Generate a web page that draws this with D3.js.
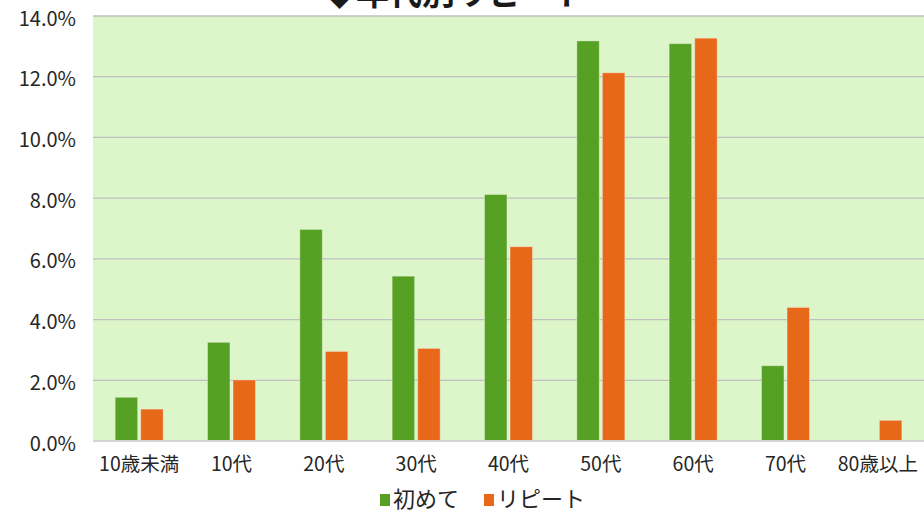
<!DOCTYPE html>
<html><head><meta charset="utf-8">
<script src="https://cdn.jsdelivr.net/npm/d3@7"></script>
<style>body{margin:0;background:#fff}svg{display:block}</style>
</head><body>
<svg id="c" width="924" height="513"></svg>
<script>
const categories = ["10歳未満","10代","20代","30代","40代","50代","60代","70代","80歳以上"];
const seriesNames = ["初めて","リピート"];
const firstTime = [1.44,3.25,6.97,5.43,8.12,13.18,13.09,2.48,0];
const repeat = [1.05,2.01,2.95,3.05,6.40,12.13,13.27,4.40,0.68];
const yTicks = [0,2,4,6,8,10,12,14];
const title = "◆年代別リピート";
const colors = ["#56a123","#e8681a"];

const svg = d3.select("#c");
const m = {l:93, r:0, t:16, b:72};
const W = 924, H = 513;
const x = d3.scaleBand().domain(categories).range([m.l, W - m.r]).paddingInner(0.48).paddingOuter(0.24);
const xs = d3.scaleBand().domain(seriesNames).range([0, x.bandwidth()]).paddingInner(0.12);
const y = d3.scaleLinear().domain([0,14]).range([H - m.b, m.t]);
const font = "'Noto Sans CJK JP','Noto Sans',sans-serif";

svg.append("rect").attr("x", m.l).attr("y", m.t).attr("width", W - m.l - m.r).attr("height", y(0) - m.t).attr("fill", "#dcf5c9");

svg.append("g").selectAll("line").data(yTicks.filter(d => d > 0)).join("line")
  .attr("x1", m.l).attr("x2", W - m.r).attr("y1", d => y(d)).attr("y2", d => y(d))
  .attr("stroke", "#bfbfbf").attr("stroke-width", 1.3);

const data = categories.map((c,i) => ({c, v:[firstTime[i], repeat[i]]}));
const g = svg.append("g");
data.forEach(d => {
  d.v.forEach((v,j) => {
    if (v <= 0) return;
    g.append("rect")
      .attr("x", x(d.c) + xs(seriesNames[j]))
      .attr("y", y(v))
      .attr("width", xs.bandwidth())
      .attr("height", y(0) - y(v))
      .attr("fill", colors[j])
      .attr("stroke", "rgba(255,255,255,0.35)").attr("stroke-width", 1);
  });
});

svg.append("line").attr("x1", m.l).attr("x2", W - m.r).attr("y1", y(0)).attr("y2", y(0))
  .attr("stroke", "#d4d4d4").attr("stroke-width", 2);

const yAxis = d3.axisLeft(y).tickValues(yTicks).tickSize(0).tickPadding(17).tickFormat(d => d.toFixed(1) + "%");
const ya = svg.append("g").attr("transform", `translate(${m.l},0)`).call(yAxis);
ya.select(".domain").remove();
ya.selectAll("text").attr("font-family", font).attr("font-size", 20).attr("fill", "#262626").attr("dy", "0.45em");

const xAxis = d3.axisBottom(x).tickSize(0).tickPadding(12);
const xa = svg.append("g").attr("transform", `translate(0,${y(0)})`).call(xAxis);
xa.select(".domain").remove();
xa.selectAll("text").attr("font-family", font).attr("font-size", 19.5).attr("fill", "#262626").attr("dy", null).attr("y", 30);

svg.append("text").attr("x", 455).attr("y", 5).attr("text-anchor", "middle")
  .attr("font-family", font).attr("font-size", 33).attr("font-weight", "bold").attr("fill", "#1a1a1a").text(title);

const leg = svg.append("g");
const legX = [380, 484];
seriesNames.forEach((s,j) => {
  leg.append("rect").attr("x", legX[j]).attr("y", 494).attr("width", 10).attr("height", 12).attr("fill", colors[j]);
  leg.append("text").attr("x", legX[j] + 13).attr("y", 507).attr("font-family", font).attr("font-size", 22).attr("fill", "#262626").text(s);
});
</script>
</body></html>
